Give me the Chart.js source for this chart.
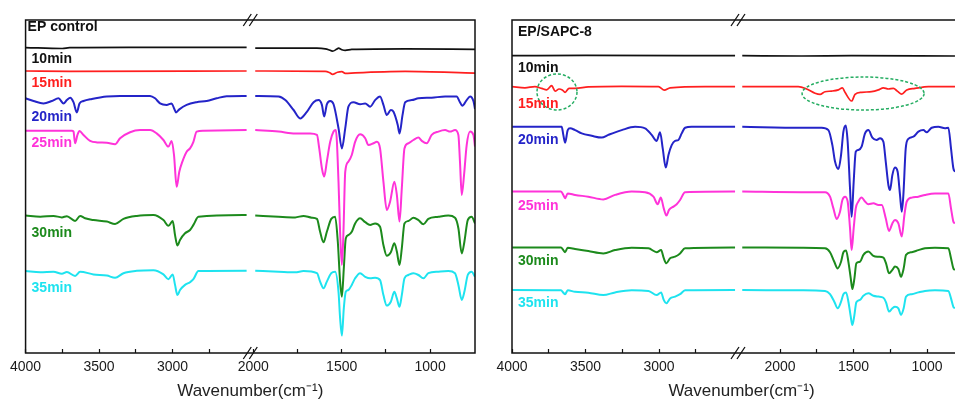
<!DOCTYPE html>
<html>
<head>
<meta charset="utf-8">
<script src="https://cdn.jsdelivr.net/npm/chart.js@4.4.1/dist/chart.umd.min.js"></script>
<style>
  html, body { margin: 0; padding: 0; background: #fff; overflow: hidden; width: 955px; height: 403px; }
  #left { position: absolute; left: 0; top: 0; }
  #right { position: absolute; left: 480px; top: 0; }
</style>
</head>
<body>
<canvas id="left" width="480" height="403"></canvas>
<canvas id="right" width="520" height="403"></canvas>
<script>
// FTIR spectra, [wavenumber (cm-1), transmittance (a.u., offset)]
// EP control
const ctrl10 = [[4000,101.8],[3750,101.5],[3700,101.8],[3300,101.9],[2496,101.9],
  [1989,101.6],[1640,101.6],[1593,101.4],[1574,101.1],[1552,100.6],[1527,101.3],[1518,101.6],[1499,101.1],[1480,100.9],[1443,101.2],[1141,101.4],[746,101.2]];
const ctrl15 = [[4000,94.0],[3700,93.9],[2496,94.0],
  [1989,94.0],[1593,93.9],[1567,93.4],[1552,92.9],[1524,93.6],[1499,93.8],[1480,93.2],[1424,93.4],[1141,93.9],[746,93.3]];
const ctrl20 = [[4000,84.9],[3946,84.0],[3878,83.2],[3821,84.0],[3776,84.9],[3742,83.2],[3719,84.3],[3696,85.1],[3674,83.6],[3651,80.2],[3633,83.2],[3606,84.0],[3549,84.7],[3493,85.2],[3447,85.5],[3357,85.7],[3153,85.7],[3119,84.9],[3085,83.2],[3040,82.7],[3006,83.2],[2990,81.6],[2976,80.2],[2954,81.2],[2904,82.7],[2836,83.6],[2768,84.0],[2700,84.9],[2632,85.6],[2496,85.7],
  [1989,85.7],[1857,85.5],[1819,84.3],[1772,81.0],[1735,78.2],[1697,80.4],[1659,83.6],[1631,84.3],[1612,82.7],[1599,78.8],[1584,82.9],[1565,84.0],[1546,82.9],[1518,74.9],[1499,68.2],[1480,74.9],[1462,82.1],[1433,83.6],[1396,82.9],[1367,83.2],[1339,82.1],[1311,84.3],[1283,85.5],[1264,82.7],[1245,79.3],[1222,81.0],[1207,80.4],[1183,76.0],[1173,73.2],[1156,79.3],[1141,83.6],[1104,84.3],[1066,84.9],[991,85.1],[915,85.5],[850,85.5],[831,83.6],[818,82.4],[793,84.3],[774,85.5],[755,84.0],[746,81.3]];
const ctrl25 = [[4000,74.1],[3685,74.1],[3674,73.8],[3663,69.9],[3647,72.7],[3633,74.0],[3606,72.7],[3561,70.7],[3515,70.2],[3447,70.1],[3391,69.6],[3357,71.6],[3289,73.6],[3221,74.3],[3153,74.3],[3108,73.2],[3062,71.0],[3028,68.8],[3006,70.7],[2990,66.0],[2972,55.4],[2954,60.4],[2933,63.8],[2904,67.1],[2881,68.2],[2858,70.4],[2836,73.8],[2790,74.1],[2496,74.3],
  [1989,74.3],[1857,73.8],[1763,73.2],[1678,73.2],[1640,72.7],[1627,68.2],[1612,61.6],[1599,58.8],[1584,63.8],[1565,70.4],[1546,73.8],[1533,74.3],[1518,57.1],[1509,40.4],[1499,29.3],[1490,40.4],[1480,60.4],[1462,63.8],[1443,66.0],[1424,70.4],[1396,72.9],[1367,71.6],[1349,69.3],[1320,69.9],[1301,70.4],[1283,68.2],[1264,57.1],[1245,47.7],[1226,50.5],[1202,57.1],[1188,52.7],[1173,43.8],[1160,54.9],[1145,68.2],[1123,69.9],[1094,71.0],[1066,71.8],[1047,70.7],[1019,69.9],[991,72.7],[953,73.8],[915,74.3],[887,73.8],[859,74.3],[840,72.7],[831,63.8],[821,52.7],[808,59.3],[793,69.3],[774,73.8],[755,72.7],[746,68.8]];
const ctrl30 = [[4000,45.8],[3900,45.4],[3810,45.7],[3753,45.2],[3719,45.6],[3663,44.0],[3629,45.7],[3595,44.9],[3538,44.3],[3447,43.8],[3391,43.0],[3334,44.7],[3243,45.7],[3130,46.0],[3062,44.3],[3028,42.4],[2999,44.0],[2983,39.3],[2967,35.8],[2949,37.7],[2915,39.9],[2881,41.0],[2858,42.7],[2824,45.4],[2496,46.0],
  [1989,45.8],[1857,45.4],[1763,45.2],[1716,45.7],[1669,45.1],[1640,44.7],[1622,40.4],[1603,36.9],[1584,40.4],[1559,44.7],[1537,45.4],[1522,37.1],[1509,23.8],[1499,18.8],[1488,28.2],[1477,38.2],[1462,39.3],[1443,40.4],[1424,43.2],[1396,44.9],[1367,43.6],[1339,42.7],[1311,43.2],[1283,42.1],[1264,36.0],[1245,32.4],[1222,33.6],[1202,36.6],[1188,33.8],[1173,29.3],[1160,34.9],[1145,43.2],[1123,44.0],[1094,45.1],[1066,44.3],[1038,42.9],[1010,44.7],[953,45.4],[897,45.8],[859,45.1],[840,41.6],[821,33.2],[806,37.1],[787,44.3],[765,45.4],[746,43.2]];
const ctrl35 = [[4000,27.3],[3900,26.9],[3810,27.1],[3753,26.4],[3719,27.0],[3663,25.7],[3629,27.1],[3538,26.2],[3447,25.8],[3391,25.1],[3334,26.6],[3243,27.4],[3130,27.6],[3062,26.2],[3028,24.6],[2999,26.2],[2983,22.7],[2967,19.3],[2949,21.0],[2915,22.7],[2881,23.6],[2858,24.6],[2824,27.3],[2496,27.4],
  [1989,27.4],[1857,27.1],[1763,26.9],[1716,27.3],[1640,26.6],[1622,23.8],[1603,21.6],[1584,23.8],[1559,26.6],[1537,27.1],[1518,20.4],[1509,11.6],[1499,5.8],[1488,14.9],[1477,20.4],[1462,21.0],[1443,22.7],[1424,24.9],[1396,26.6],[1367,25.4],[1339,24.9],[1311,25.1],[1283,24.3],[1264,19.3],[1245,15.8],[1222,17.1],[1202,20.4],[1188,18.2],[1173,15.4],[1160,19.3],[1145,24.9],[1123,26.0],[1094,26.6],[1066,26.0],[1038,24.9],[1010,26.6],[953,27.1],[897,27.3],[859,26.6],[840,22.7],[821,17.7],[806,20.4],[787,26.0],[765,27.1],[746,25.4]];

// EP/SAPC-8
const sapc10 = [[4000,99.1],[3500,99.2],[2483,99.1],
  [2257,99.1],[1853,99.0],[1513,99.1],[810,99.0]];
const sapc15 = [[3998,88.8],[3912,88.4],[3844,88.8],[3798,88.2],[3764,87.7],[3730,89.1],[3707,87.3],[3680,88.0],[3658,87.7],[3639,86.9],[3612,88.2],[3571,88.2],[3481,88.7],[3254,88.9],[3004,88.8],[2964,87.6],[2925,88.4],[2687,88.8],[2483,88.8],
  [2257,88.8],[1876,88.8],[1819,88.0],[1762,86.6],[1728,86.2],[1694,87.1],[1649,87.3],[1603,87.7],[1576,88.4],[1558,86.9],[1513,84.0],[1490,86.2],[1445,86.9],[1377,87.1],[1331,87.7],[1297,88.4],[1263,88.0],[1229,88.2],[1202,87.3],[1172,86.3],[1138,87.7],[1082,88.2],[991,88.8],[810,88.8]];
const sapc20 = [[3998,75.4],[3662,75.4],[3651,72.7],[3639,70.1],[3621,74.3],[3605,74.9],[3571,74.3],[3526,73.2],[3458,72.4],[3390,71.8],[3345,72.7],[3254,74.3],[3163,75.4],[3095,74.9],[3050,72.7],[3016,70.7],[2993,73.6],[2975,68.2],[2954,61.8],[2936,66.0],[2914,69.3],[2891,70.7],[2868,71.0],[2846,73.2],[2823,75.1],[2778,75.4],[2483,75.4],
  [2257,75.4],[1853,75.1],[1717,75.1],[1671,74.3],[1644,69.3],[1626,63.8],[1603,61.3],[1585,66.0],[1569,73.8],[1553,75.8],[1540,70.4],[1524,54.9],[1513,45.4],[1499,57.1],[1485,67.1],[1467,67.7],[1445,68.8],[1422,73.2],[1399,74.3],[1372,71.8],[1343,71.0],[1320,71.6],[1297,70.4],[1281,63.8],[1263,56.0],[1252,54.3],[1236,59.3],[1218,61.8],[1200,60.4],[1184,52.7],[1172,47.1],[1161,52.7],[1145,68.2],[1127,71.4],[1093,72.1],[1059,73.8],[1025,74.3],[1002,73.6],[968,75.1],[923,75.4],[878,74.9],[855,75.1],[837,68.2],[821,61.6],[810,60.4]];
const sapc25 = [[3998,53.8],[3667,53.8],[3651,52.7],[3639,51.6],[3621,53.2],[3571,52.7],[3481,52.1],[3379,51.2],[3299,52.7],[3186,53.8],[3095,53.6],[3038,52.1],[3009,49.6],[2988,51.8],[2968,48.2],[2950,45.8],[2932,47.7],[2902,48.8],[2880,49.6],[2857,51.0],[2823,53.6],[2483,53.8],
  [2257,53.8],[1853,53.6],[1694,53.6],[1660,52.1],[1637,48.2],[1615,44.7],[1592,47.1],[1576,51.0],[1558,52.1],[1540,50.5],[1524,41.6],[1513,34.3],[1499,41.6],[1485,48.2],[1467,50.5],[1445,51.8],[1422,50.5],[1399,49.6],[1365,49.9],[1331,49.3],[1308,49.3],[1281,44.9],[1259,40.7],[1236,43.2],[1218,44.3],[1195,43.2],[1172,38.8],[1154,46.0],[1138,50.5],[1104,51.8],[1059,52.1],[1014,52.7],[946,53.2],[855,53.2],[837,48.2],[821,43.8],[810,43.2]];
const sapc30 = [[3998,35.2],[3667,35.2],[3651,34.3],[3639,33.6],[3621,35.1],[3571,34.7],[3481,34.0],[3379,33.2],[3299,34.3],[3186,35.1],[3072,34.9],[3016,33.6],[2986,34.3],[2968,31.6],[2950,29.9],[2925,31.6],[2891,32.1],[2857,33.2],[2823,34.9],[2483,35.2],
  [2257,35.2],[1853,35.1],[1694,34.9],[1660,33.6],[1631,30.4],[1608,28.2],[1585,30.4],[1569,33.6],[1551,34.2],[1535,30.4],[1519,24.9],[1508,21.3],[1494,24.9],[1481,29.9],[1456,30.4],[1433,32.7],[1399,33.8],[1365,32.4],[1331,32.1],[1297,31.8],[1279,29.9],[1259,26.6],[1236,27.7],[1218,28.8],[1195,28.0],[1177,25.4],[1159,28.2],[1143,32.7],[1104,33.6],[1059,34.3],[1014,34.9],[946,35.1],[855,34.9],[837,31.6],[821,28.2],[810,27.7]];
const sapc35 = [[3998,21.0],[3667,20.9],[3651,20.1],[3639,19.6],[3621,20.9],[3571,20.4],[3481,20.1],[3379,19.3],[3299,20.2],[3186,20.9],[3072,20.7],[3016,19.3],[2986,20.2],[2968,17.7],[2950,16.6],[2925,18.2],[2891,18.8],[2857,19.6],[2823,20.9],[2483,21.0],
  [2257,21.0],[1853,20.9],[1694,20.7],[1660,19.6],[1631,17.1],[1608,14.9],[1585,17.1],[1569,19.6],[1551,20.2],[1535,17.1],[1519,12.1],[1508,9.3],[1494,12.7],[1481,16.9],[1456,17.7],[1433,19.1],[1399,19.9],[1365,19.1],[1331,18.8],[1297,18.4],[1279,16.9],[1259,13.8],[1236,14.9],[1218,15.4],[1195,14.9],[1177,12.7],[1159,14.9],[1143,18.8],[1104,19.6],[1059,20.2],[1014,20.7],[946,20.9],[855,20.7],[837,18.2],[821,15.4],[810,14.9]];

const timeLabels = ['10min', '15min', '20min', '25min', '30min', '35min'];
const colours = ['#111111', '#ff1f1f', '#2424c8', '#ff33d9', '#1c8a1c', '#1ee3ef'];
const hiTicks = [4000, 3750, 3500, 3250, 3000, 2750];
const loTicks = [2000, 1750, 1500, 1250, 1000];
const breakAt = 2300;   // axis break between the two wavenumber ranges
const axisTitle = 'Wavenumber(cm\u207B\u00B9)';
const FONT = "'Liberation Sans', Arial, sans-serif";

const panels = [
  {
    id: 'left', name: 'EP control', series: [ctrl10, ctrl15, ctrl20, ctrl25, ctrl30, ctrl35],
    hi: [2471, 4000], lo: [746, 2017], weights: [225, 225],
    padding: { left: 25, right: 5, top: 20, bottom: 0 },
    nameAt: { dx: 2, y: 108.5 }, labelDx: 6, labelY: [98, 90, 78.7, 70, 40, 21.7],
    ellipses: []
  },
  {
    id: 'right', name: 'EP/SAPC-8', series: [sapc10, sapc15, sapc20, sapc25, sapc30, sapc35],
    hi: [2463, 4000], lo: [701, 2286], weights: [226, 233],
    padding: { left: 32, right: 29, top: 20, bottom: 0 },
    nameAt: { dx: 6, y: 107 }, labelDx: 6, labelY: [95, 83, 71, 49, 30.7, 16.7],
    ellipses: [
      { axis: 'xHi', x: 3694, y: 87, rx: 136, ry: 6 },
      { axis: 'xLo', x: 1435, y: 86.5, rx: 415, ry: 5.5 }
    ]
  }
];

const decor = {
  id: 'decor',
  afterDatasetsDraw(chart, args, opts) {
    const { ctx, chartArea: a, scales } = chart;
    const y = scales.y;
    ctx.save();
    // frame
    ctx.strokeStyle = '#111';
    ctx.lineWidth = 1.5;
    ctx.strokeRect(a.left, a.top, a.right - a.left, a.bottom - a.top);
    // break marks on top and bottom edges
    const bx = scales.xHi.right;
    for (const by of [a.top, a.bottom]) {
      ctx.beginPath();
      for (const dx of [-3, 3]) {
        ctx.moveTo(bx + dx - 4, by + 6);
        ctx.lineTo(bx + dx + 4, by - 6);
      }
      ctx.lineWidth = 1.3;
      ctx.stroke();
    }
    // highlighted regions
    ctx.setLineDash([3, 2]);
    ctx.strokeStyle = '#25ad62';
    ctx.lineWidth = 1.5;
    for (const e of opts.ellipses) {
      const sx = scales[e.axis];
      const cx = sx.getPixelForValue(e.x);
      const cy = y.getPixelForValue(e.y);
      const rx = Math.abs(sx.getPixelForValue(e.x + e.rx) - cx);
      const ry = Math.abs(y.getPixelForValue(e.y + e.ry) - cy);
      ctx.beginPath();
      ctx.ellipse(cx, cy, rx, ry, 0, 0, Math.PI * 2);
      ctx.stroke();
    }
    ctx.setLineDash([]);
    // texts
    ctx.textBaseline = 'middle';
    ctx.textAlign = 'left';
    ctx.font = 'bold 14px ' + FONT;
    ctx.fillStyle = '#111';
    ctx.fillText(opts.name, a.left + opts.nameAt.dx, y.getPixelForValue(opts.nameAt.y));
    timeLabels.forEach((t, i) => {
      ctx.fillStyle = colours[i];
      ctx.fillText(t, a.left + opts.labelDx, y.getPixelForValue(opts.labelY[i]));
    });
    ctx.restore();
  }
};

function xAxis(range, weight, ticks) {
  return {
    type: 'linear', position: 'bottom', stack: 'wn', stackWeight: weight,
    reverse: true, min: range[0], max: range[1],
    afterBuildTicks: s => { s.ticks = ticks.map(v => ({ value: v })); },
    afterFit: s => { s.height = 28.6; },
    grid: { display: true, drawOnChartArea: false, drawTicks: true, tickLength: -4, tickColor: '#111', tickWidth: 1.2 },
    border: { display: false },
    ticks: {
      autoSkip: false, maxRotation: 0, minRotation: 0, padding: 10,
      color: '#1a1a1a', font: { family: FONT, size: 14 },
      callback: v => (v % 500 === 0 ? String(v) : '')
    }
  };
}

function makePanel(p) {
  const datasets = [];
  p.series.forEach((s, i) => {
    const hiPts = s.filter(d => d[0] >= breakAt).map(([x, y]) => ({ x, y }));
    const loPts = s.filter(d => d[0] < breakAt).map(([x, y]) => ({ x, y }));
    for (const [pts, axis] of [[hiPts, 'xHi'], [loPts, 'xLo']]) {
      datasets.push({
        label: timeLabels[i], data: pts, xAxisID: axis, yAxisID: 'y',
        borderColor: colours[i], borderWidth: i < 2 ? 1.7 : 2, pointRadius: 0,
        cubicInterpolationMode: 'monotone', fill: false
      });
    }
  });
  return new Chart(document.getElementById(p.id), {
    type: 'line',
    data: { datasets },
    options: {
      responsive: false,
      animation: false,
      layout: { padding: p.padding },
      scales: {
        xHi: xAxis(p.hi, p.weights[0], hiTicks),
        xLo: xAxis(p.lo, p.weights[1], loTicks),
        y: { display: false, min: 0, max: 111 }
      },
      plugins: {
        legend: { display: false },
        tooltip: { enabled: false },
        title: {
          display: true, position: 'bottom', fullSize: false, text: axisTitle,
          color: '#222', font: { family: FONT, size: 17, weight: 'normal' },
          padding: { top: 0, bottom: 1 }
        },
        decor: { name: p.name, nameAt: p.nameAt, labelDx: p.labelDx, labelY: p.labelY, ellipses: p.ellipses }
      }
    },
    plugins: [decor]
  });
}

panels.forEach(makePanel);
</script>
</body>
</html>
